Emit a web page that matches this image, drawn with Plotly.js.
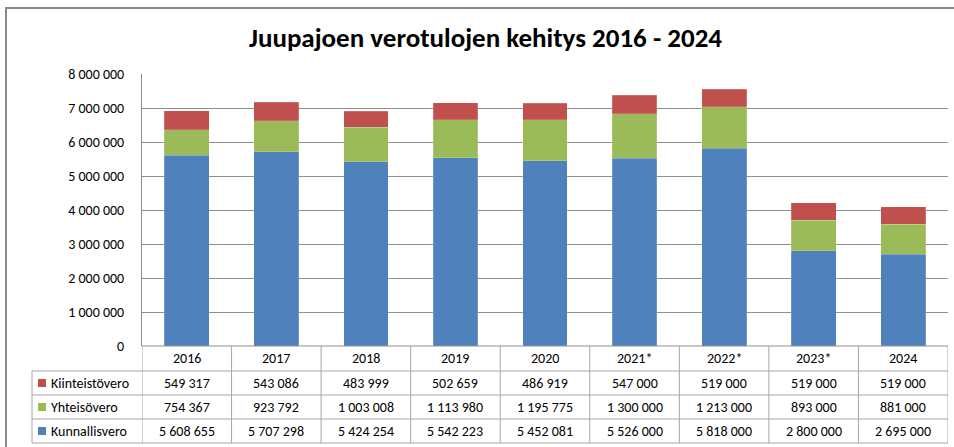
<!DOCTYPE html>
<html>
<head>
<meta charset="utf-8">
<script src="https://cdn.plot.ly/plotly-3.0.1.min.js"></script>
<style>html,body{margin:0;padding:0;background:#fff;}#chart{width:954px;height:447px;}</style>
</head>
<body>
<div id="chart"></div>
<script>
const years = ["2016", "2017", "2018", "2019", "2020", "2021*", "2022*", "2023*", "2024"];
const kunnallisvero = [5608655, 5707298, 5424254, 5542223, 5452081, 5526000, 5818000, 2800000, 2695000];
const yhteisovero = [754367, 923792, 1003008, 1113980, 1195775, 1300000, 1213000, 893000, 881000];
const kiinteistovero = [549317, 543086, 483999, 502659, 486919, 547000, 519000, 519000, 519000];
const seriesNames = ["Kiinteistövero", "Yhteisövero", "Kunnallisvero"];
const yTicks = [0, 1000000, 2000000, 3000000, 4000000, 5000000, 6000000, 7000000, 8000000];

const colors = {"Kunnallisvero": "#4F81BD", "Yhteisövero": "#9BBB59", "Kiinteistövero": "#C0504D"};
const FONT = "Carlito, Lato, 'Open Sans', sans-serif";
const gridColor = "#8f8f8f";
const cellColor = "#a6a6a6";

const W = 954, H = 447;
const L = 142, R = 948, T = 74, B = 346;
const pw = R - L, ph = B - T;
const px2x = p => (p - L) / pw;
const py2y = p => (B - p) / ph;

function fmt(n) {
  return String(n).replace(/\B(?=(\d{3})+(?!\d))/g, " ");
}

const traces = [
  {name: "Kunnallisvero", y: kunnallisvero},
  {name: "Yhteisövero", y: yhteisovero},
  {name: "Kiinteistövero", y: kiinteistovero}
].map(s => ({
  type: "bar", x: years, y: s.y, name: s.name,
  marker: {color: colors[s.name], line: {color: "rgba(255,255,255,0.35)", width: 0.5}},
  hoverinfo: "x+y+name"
}));

const rowVals = {"Kiinteistövero": kiinteistovero, "Yhteisövero": yhteisovero, "Kunnallisvero": kunnallisvero};

const shapes = [];
const annotations = [];

// outer chart border
shapes.push({type: "rect", xref: "paper", yref: "paper",
  x0: px2x(6), x1: px2x(962), y0: py2y(455), y1: py2y(8),
  line: {color: "#8a8a8a", width: 2}, layer: "below"});

// table geometry
const rowLines = [346, 371, 395, 419, 443];
shapes.push({type: "line", xref: "paper", yref: "paper", x0: 0, x1: 1, y0: py2y(346), y1: py2y(346), line: {color: gridColor, width: 1}});
for (let i = 1; i < rowLines.length; i++) {
  shapes.push({type: "line", xref: "paper", yref: "paper", x0: px2x(32), x1: 1,
    y0: py2y(rowLines[i]), y1: py2y(rowLines[i]), line: {color: cellColor, width: 1}});
}
for (let i = 0; i <= years.length; i++) {
  shapes.push({type: "line", xref: "x", yref: "paper", x0: i - 0.5, x1: i - 0.5,
    y0: py2y(443), y1: py2y(346), line: {color: cellColor, width: 1}});
}
shapes.push({type: "line", xref: "paper", yref: "paper", x0: px2x(32), x1: px2x(32),
  y0: py2y(443), y1: py2y(371), line: {color: cellColor, width: 1}});

// header row
years.forEach((yr, i) => {
  annotations.push({xref: "x", yref: "paper", x: i, y: py2y(358.5), text: yr, showarrow: false,
    xanchor: "center", yanchor: "middle", font: {family: FONT, size: 14, color: "#000"}});
});

// data rows
seriesNames.forEach((nm, r) => {
  const top = rowLines[r + 1], bot = rowLines[r + 2];
  const cy = (top + bot) / 2;
  shapes.push({type: "rect", xref: "paper", yref: "paper",
    x0: px2x(38), x1: px2x(46), y0: py2y(cy + 4), y1: py2y(cy - 4),
    fillcolor: colors[nm], line: {width: 0}});
  annotations.push({xref: "paper", yref: "paper", x: px2x(49), y: py2y(cy), text: nm, showarrow: false,
    xanchor: "left", yanchor: "middle", font: {family: FONT, size: 14, color: "#000"}});
  rowVals[nm].forEach((v, i) => {
    annotations.push({xref: "x", yref: "paper", x: i, y: py2y(cy), text: fmt(v), showarrow: false,
      xanchor: "center", yanchor: "middle", font: {family: FONT, size: 14, color: "#000"}});
  });
});

const layout = {
  width: W, height: H,
  margin: {l: L, r: W - R, t: T, b: H - B, pad: 0},
  paper_bgcolor: "#fff", plot_bgcolor: "#fff",
  barmode: "stack", bargap: 0.5,
  separators: ", ",
  showlegend: false,
  title: {text: "<b>Juupajoen verotulojen kehitys 2016 - 2024</b>", x: 485.5 / W, xanchor: "center",
    y: 1 - 38 / H, yanchor: "middle", font: {family: FONT, size: 27, color: "#000"}},
  xaxis: {type: "category", showticklabels: false, showgrid: false, zeroline: false, showline: false,
    range: [-0.5, years.length - 0.5], fixedrange: true},
  yaxis: {range: [0, 8000000], tickvals: yTicks, ticktext: yTicks.map(fmt), showgrid: true,
    gridcolor: gridColor, gridwidth: 1, zeroline: false, showline: true, linecolor: gridColor, linewidth: 1,
    ticks: "", ticklabelstandoff: 14, tickfont: {family: FONT, size: 14, color: "#000"}, fixedrange: true},
  shapes: shapes,
  annotations: annotations
};

Plotly.newPlot("chart", traces, layout, {displayModeBar: false, staticPlot: true});
</script>
</body>
</html>
